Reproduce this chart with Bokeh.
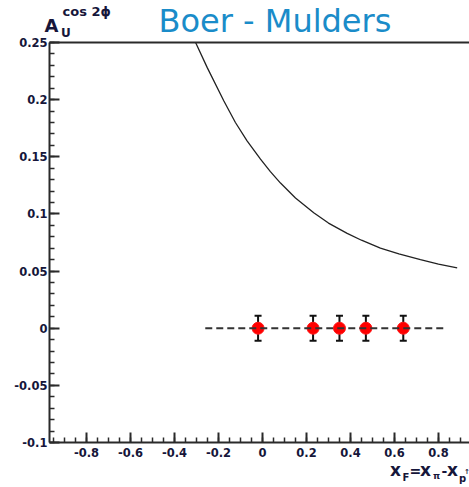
from bokeh.plotting import figure
from bokeh.models import (ColumnDataSource, Range1d, FixedTicker, CustomJSTickFormatter,
                          LinearAxis, Label, Whisker, TeeHead)
from bokeh.embed import file_html
from bokeh.resources import INLINE
import numpy as np

# Boer-Mulders prediction curve for A_U^{cos 2phi} versus x_F
curve_x = [-0.304, -0.251, -0.176, -0.123, -0.07, -0.009, 0.036, 0.082, 0.15, 0.233,
           0.30, 0.385, 0.45, 0.536, 0.62, 0.718, 0.80, 0.885]
curve_y = [0.250, 0.228, 0.199, 0.180, 0.164, 0.148, 0.137, 0.127, 0.114, 0.101,
           0.092, 0.083, 0.077, 0.070, 0.065, 0.060, 0.056, 0.0527]

# projected measurement points (zero asymmetry) with statistical errors
pts_x = [-0.02, 0.23, 0.35, 0.47, 0.64]
pts_y = [0.0, 0.0, 0.0, 0.0, 0.0]
pts_err = [0.011, 0.011, 0.011, 0.011, 0.011]

# zero reference line extent
zero_x = [-0.26, 0.83]
zero_y = [0.0, 0.0]

x_major = [-0.8, -0.6, -0.4, -0.2, 0.0, 0.2, 0.4, 0.6, 0.8]
y_major = [-0.1, -0.05, 0.0, 0.05, 0.1, 0.15, 0.2, 0.25]

# axis extents and page layout (pixels)
XMIN, XMAX = -0.968, 0.941
YMIN, YMAX = -0.1, 0.25
W, H = 469, 487
LEFT, TOP, BOTTOM = 49, 42, 45
X_PER_PX = (XMAX - XMIN) / (W - LEFT)
Y_PER_PX = (YMAX - YMIN) / (H - TOP - BOTTOM)

# the frame spans the whole canvas; axes sit at fixed locations inside it
p = figure(width=W, height=H,
           x_range=Range1d(XMIN - LEFT * X_PER_PX, XMAX),
           y_range=Range1d(YMIN - BOTTOM * Y_PER_PX, YMAX + TOP * Y_PER_PX),
           output_backend="svg", toolbar_location=None,
           min_border_left=0, min_border_right=0, min_border_top=0, min_border_bottom=0)
p.grid.visible = False
p.outline_line_color = None
p.background_fill_color = "white"
p.border_fill_color = "white"

fmt = CustomJSTickFormatter(code="""
let s = tick.toFixed(2).replace(/0+$/, '').replace(/\\.$/, '');
if (s === '-0') s = '0';
return s;
""")

AXIS_COLOR = "#2a2a2a"
LABEL_COLOR = "#16163a"

xa = p.xaxis[0]
xa.ticker = FixedTicker(ticks=x_major, minor_ticks=list(np.round(np.arange(-0.95, 0.95, 0.05), 2)))
xa.fixed_location = YMIN
xa.bounds = (XMIN, XMAX)
ya = p.yaxis[0]
ya.ticker = FixedTicker(ticks=y_major, minor_ticks=list(np.round(np.arange(-0.1, 0.251, 0.01), 2)))
ya.fixed_location = XMIN
ya.bounds = (YMIN, YMAX)
for ax in (xa, ya):
    ax.formatter = fmt
    ax.axis_line_color = AXIS_COLOR
    ax.axis_line_width = 2
    ax.major_tick_in = 10
    ax.major_tick_out = 0
    ax.minor_tick_in = 5
    ax.minor_tick_out = 0
    ax.major_tick_line_color = AXIS_COLOR
    ax.major_tick_line_width = 2
    ax.minor_tick_line_color = AXIS_COLOR
    ax.minor_tick_line_width = 1.5
    ax.major_label_text_font = "DejaVu Sans"
    ax.major_label_text_font_style = "bold"
    ax.major_label_text_font_size = "11.5px"
    ax.major_label_text_color = LABEL_COLOR
xa.major_label_standoff = 5
ya.major_label_standoff = 2

# top border line of the frame
top = LinearAxis(ticker=FixedTicker(ticks=[]), major_label_text_font_size="0px",
                 major_tick_in=0, major_tick_out=0, minor_tick_in=0, minor_tick_out=0,
                 axis_line_color=AXIS_COLOR, axis_line_width=2,
                 fixed_location=YMAX, bounds=(XMIN, XMAX))
p.add_layout(top, "above")

# prediction curve
p.line(curve_x, curve_y, line_color="#222222", line_width=1.3)

# error bars, points and the dashed zero line
src = ColumnDataSource(dict(x=pts_x, y=pts_y,
                            lo=[y - e for y, e in zip(pts_y, pts_err)],
                            hi=[y + e for y, e in zip(pts_y, pts_err)]))
p.add_layout(Whisker(source=src, base="x", lower="lo", upper="hi",
                     line_color="#111111", line_width=2,
                     lower_head=TeeHead(size=7, line_color="#111111", line_width=2),
                     upper_head=TeeHead(size=7, line_color="#111111", line_width=2)))
p.scatter("x", "y", source=src, size=12, fill_color="#ff0000", line_color="#ff1a1a")
p.line(zero_x, zero_y, line_color="#333333", line_width=2, line_dash="7 4")


def at(px, py, size):
    # Label places the line box bottom at y; lift it so the glyph baseline sits at py
    return dict(x=XMIN + (px - LEFT) * X_PER_PX,
                y=YMAX - (py - 0.36 * size - TOP) * Y_PER_PX,
                x_units="data", y_units="data", text_baseline="alphabetic", text_align="left")


def label(text, px, py, size, color=LABEL_COLOR, font="DejaVu Sans", style="bold"):
    p.add_layout(Label(text=text, text_font=font, text_font_style=style,
                       text_font_size=f"{size}px", text_color=color, **at(px, py, size)))


# title
label("Boer - Mulders", 158, 32, 32, color="#1a8cc9", style="normal")

# y-axis title: A_U^{cos 2phi}
label("A", 44, 31, 18)
label("U", 60.5, 37, 12)
label("cos 2\u03d5", 62, 16, 13)

# x-axis title: x_F = x_pi - x_p(up)
label("x", 389.5, 476, 17)
label("F", 402, 481, 10)
label("=", 409, 476, 14)
label("x", 419.5, 476, 17)
label("\u03c0", 432.5, 479, 9)
label("-", 441, 476, 14)
label("x", 446.5, 476, 17)
label("p", 458.5, 482, 10)
label("\u2191", 463.5, 474, 7)

open("out.html", "w").write(file_html(p, INLINE))
